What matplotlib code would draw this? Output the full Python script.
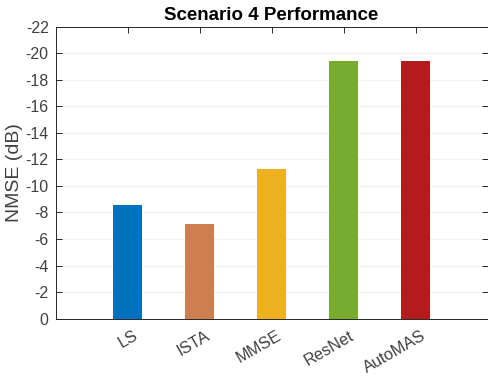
import numpy as np
import matplotlib.pyplot as plt
from matplotlib.transforms import ScaledTranslation

plt.rcParams['font.family'] = ['Liberation Sans', 'DejaVu Sans']

# Scenario 4 NMSE results
methods = ['LS', 'ISTA', 'MMSE', 'ResNet', 'AutoMAS']
nmse_db = [-8.6, -7.1, -11.3, -19.4, -19.4]
bar_colors = ['#0072BD', '#CD7F4F', '#EDB120', '#77AC30', '#B41B1D']
yticks = np.arange(0, -23, -2)

axcol = '#262626'
fig = plt.figure(figsize=(4.88, 3.82), dpi=100)
ax = fig.add_axes([0.114, 0.166, 0.885, 0.764])

x = np.arange(1, len(methods) + 1)
ax.bar(x, nmse_db, width=0.41, color=bar_colors, zorder=3)

ax.set_xlim(0, 6)
ax.set_ylim(0, -22)
ax.set_yticks(yticks)
ax.set_yticklabels([str(v) for v in yticks])
ax.set_xticks(x)
ax.set_xticklabels([])

# rotated category labels, right end just past each tick
off = ScaledTranslation(5 / 100, -9.5 / 100, fig.dpi_scale_trans)
for xi, name in zip(x, methods):
    ax.text(xi, 0, name, transform=ax.get_xaxis_transform() + off,
            rotation=30, ha='right', va='top', rotation_mode='anchor',
            fontsize=11.8, color='#404040')

ax.grid(axis='y', color='#f0f0f0', linewidth=0.8, zorder=0)
ax.tick_params(direction='in', top=True, right=True, length=4, width=0.7,
               colors=axcol, labelsize=11.5, labelcolor='#404040', pad=5)
for s in ax.spines.values():
    s.set_color(axcol)
    s.set_linewidth(0.7)

ax.set_ylabel('NMSE (dB)', fontsize=14, color='#404040', labelpad=2)
ax.set_title('Scenario 4 Performance', fontsize=13.5, fontweight='bold', pad=5)

fig.savefig('out.png', dpi=100)
